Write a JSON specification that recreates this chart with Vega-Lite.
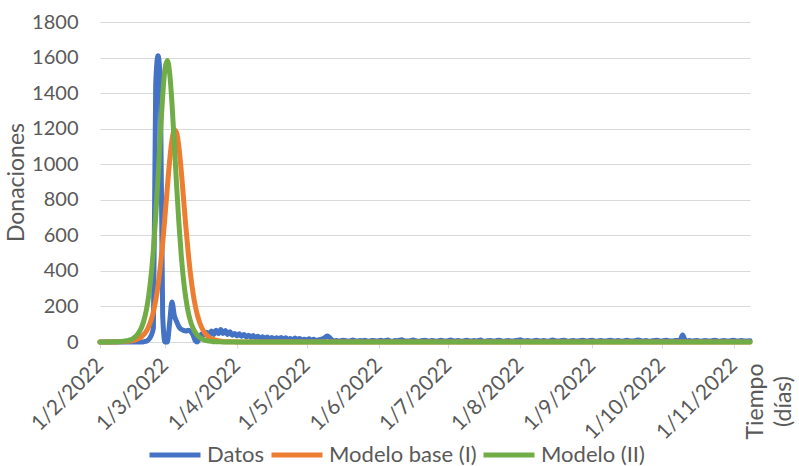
{
"$schema":"https://vega.github.io/schema/vega-lite/v6.json",
"width":650,"height":320,
"autosize":"none",
"padding":{"left":100,"top":22,"right":49,"bottom":124},
"background":"white",
"config":{"view":{"stroke":null},"font":"Lato"},
"data":{"values":[
{"t":"2022-02-01","Datos":0,"Modelo base (I)":0,"Modelo (II)":0},
{"t":"2022-02-02","Datos":0,"Modelo base (I)":0,"Modelo (II)":0},
{"t":"2022-02-03","Datos":0,"Modelo base (I)":0,"Modelo (II)":0},
{"t":"2022-02-04","Datos":0,"Modelo base (I)":0,"Modelo (II)":0},
{"t":"2022-02-05","Datos":0,"Modelo base (I)":0,"Modelo (II)":0},
{"t":"2022-02-06","Datos":0,"Modelo base (I)":0,"Modelo (II)":1},
{"t":"2022-02-07","Datos":0,"Modelo base (I)":0,"Modelo (II)":1},
{"t":"2022-02-08","Datos":0,"Modelo base (I)":0,"Modelo (II)":1},
{"t":"2022-02-09","Datos":0,"Modelo base (I)":1,"Modelo (II)":2},
{"t":"2022-02-10","Datos":0,"Modelo base (I)":1,"Modelo (II)":3},
{"t":"2022-02-11","Datos":0,"Modelo base (I)":2,"Modelo (II)":4},
{"t":"2022-02-12","Datos":0,"Modelo base (I)":3,"Modelo (II)":6},
{"t":"2022-02-13","Datos":0,"Modelo base (I)":4,"Modelo (II)":8},
{"t":"2022-02-14","Datos":0,"Modelo base (I)":5,"Modelo (II)":12},
{"t":"2022-02-15","Datos":0,"Modelo base (I)":8,"Modelo (II)":18},
{"t":"2022-02-16","Datos":0,"Modelo base (I)":11,"Modelo (II)":27},
{"t":"2022-02-17","Datos":0,"Modelo base (I)":16,"Modelo (II)":40},
{"t":"2022-02-18","Datos":0,"Modelo base (I)":22,"Modelo (II)":59},
{"t":"2022-02-19","Datos":0,"Modelo base (I)":31,"Modelo (II)":86},
{"t":"2022-02-20","Datos":2,"Modelo base (I)":44,"Modelo (II)":125},
{"t":"2022-02-21","Datos":5,"Modelo base (I)":62,"Modelo (II)":182},
{"t":"2022-02-22","Datos":15,"Modelo base (I)":87,"Modelo (II)":262},
{"t":"2022-02-23","Datos":35,"Modelo base (I)":122,"Modelo (II)":372},
{"t":"2022-02-24","Datos":80,"Modelo base (I)":170,"Modelo (II)":519},
{"t":"2022-02-25","Datos":1450,"Modelo base (I)":234,"Modelo (II)":706},
{"t":"2022-02-26","Datos":1610,"Modelo base (I)":318,"Modelo (II)":928},
{"t":"2022-02-27","Datos":1450,"Modelo base (I)":426,"Modelo (II)":1165},
{"t":"2022-02-28","Datos":150,"Modelo base (I)":557,"Modelo (II)":1384},
{"t":"2022-03-01","Datos":0,"Modelo base (I)":709,"Modelo (II)":1537},
{"t":"2022-03-02","Datos":0,"Modelo base (I)":869,"Modelo (II)":1584},
{"t":"2022-03-03","Datos":110,"Modelo base (I)":1020,"Modelo (II)":1513},
{"t":"2022-03-04","Datos":225,"Modelo base (I)":1135,"Modelo (II)":1344},
{"t":"2022-03-05","Datos":150,"Modelo base (I)":1192,"Modelo (II)":1118},
{"t":"2022-03-06","Datos":115,"Modelo base (I)":1177,"Modelo (II)":881},
{"t":"2022-03-07","Datos":85,"Modelo base (I)":1095,"Modelo (II)":666},
{"t":"2022-03-08","Datos":72,"Modelo base (I)":962,"Modelo (II)":487},
{"t":"2022-03-09","Datos":65,"Modelo base (I)":805,"Modelo (II)":347},
{"t":"2022-03-10","Datos":62,"Modelo base (I)":646,"Modelo (II)":244},
{"t":"2022-03-11","Datos":66,"Modelo base (I)":502,"Modelo (II)":169},
{"t":"2022-03-12","Datos":60,"Modelo base (I)":380,"Modelo (II)":116},
{"t":"2022-03-13","Datos":42,"Modelo base (I)":282,"Modelo (II)":80},
{"t":"2022-03-14","Datos":8,"Modelo base (I)":206,"Modelo (II)":54},
{"t":"2022-03-15","Datos":0,"Modelo base (I)":149,"Modelo (II)":37},
{"t":"2022-03-16","Datos":30,"Modelo base (I)":107,"Modelo (II)":25},
{"t":"2022-03-17","Datos":46,"Modelo base (I)":76,"Modelo (II)":17},
{"t":"2022-03-18","Datos":40,"Modelo base (I)":54,"Modelo (II)":11},
{"t":"2022-03-19","Datos":55,"Modelo base (I)":38,"Modelo (II)":8},
{"t":"2022-03-20","Datos":40,"Modelo base (I)":27,"Modelo (II)":5},
{"t":"2022-03-21","Datos":62,"Modelo base (I)":19,"Modelo (II)":4},
{"t":"2022-03-22","Datos":42,"Modelo base (I)":14,"Modelo (II)":2},
{"t":"2022-03-23","Datos":66,"Modelo base (I)":10,"Modelo (II)":2},
{"t":"2022-03-24","Datos":46,"Modelo base (I)":7,"Modelo (II)":1},
{"t":"2022-03-25","Datos":70,"Modelo base (I)":5,"Modelo (II)":1},
{"t":"2022-03-26","Datos":48,"Modelo base (I)":3,"Modelo (II)":0},
{"t":"2022-03-27","Datos":64,"Modelo base (I)":2,"Modelo (II)":0},
{"t":"2022-03-28","Datos":42,"Modelo base (I)":2,"Modelo (II)":0},
{"t":"2022-03-29","Datos":58,"Modelo base (I)":1,"Modelo (II)":0},
{"t":"2022-03-30","Datos":38,"Modelo base (I)":1,"Modelo (II)":0},
{"t":"2022-03-31","Datos":48,"Modelo base (I)":1,"Modelo (II)":0},
{"t":"2022-04-01","Datos":34,"Modelo base (I)":0,"Modelo (II)":0},
{"t":"2022-04-02","Datos":46,"Modelo base (I)":0,"Modelo (II)":0},
{"t":"2022-04-03","Datos":32,"Modelo base (I)":0,"Modelo (II)":0},
{"t":"2022-04-04","Datos":42,"Modelo base (I)":0,"Modelo (II)":0},
{"t":"2022-04-05","Datos":28,"Modelo base (I)":0,"Modelo (II)":0},
{"t":"2022-04-06","Datos":38,"Modelo base (I)":0,"Modelo (II)":0},
{"t":"2022-04-07","Datos":26,"Modelo base (I)":0,"Modelo (II)":0},
{"t":"2022-04-08","Datos":36},{"t":"2022-04-09","Datos":24},{"t":"2022-04-10","Datos":32},{"t":"2022-04-11","Datos":20},{"t":"2022-04-12","Datos":30},{"t":"2022-04-13","Datos":18},{"t":"2022-04-14","Datos":28},{"t":"2022-04-15","Datos":16},{"t":"2022-04-16","Datos":26},{"t":"2022-04-17","Datos":14},{"t":"2022-04-18","Datos":24},{"t":"2022-04-19","Datos":16},{"t":"2022-04-20","Datos":26},{"t":"2022-04-21","Datos":14},{"t":"2022-04-22","Datos":24},{"t":"2022-04-23","Datos":12},{"t":"2022-04-24","Datos":20},{"t":"2022-04-25","Datos":10},{"t":"2022-04-26","Datos":22},{"t":"2022-04-27","Datos":12},{"t":"2022-04-28","Datos":20},{"t":"2022-04-29","Datos":8},{"t":"2022-04-30","Datos":16},
{"t":"2022-05-01","Datos":8},{"t":"2022-05-02","Datos":18},{"t":"2022-05-03","Datos":10},{"t":"2022-05-04","Datos":16},{"t":"2022-05-05","Datos":8},{"t":"2022-05-06","Datos":12},{"t":"2022-05-07","Datos":14},{"t":"2022-05-08","Datos":18},{"t":"2022-05-09","Datos":26},{"t":"2022-05-10","Datos":34},{"t":"2022-05-11","Datos":24},{"t":"2022-05-12","Datos":10},{"t":"2022-05-13","Datos":6},{"t":"2022-05-14","Datos":9},{"t":"2022-05-15","Datos":5},{"t":"2022-05-16","Datos":8},{"t":"2022-05-17","Datos":10},{"t":"2022-05-18","Datos":7},{"t":"2022-05-19","Datos":4},{"t":"2022-05-20","Datos":8},{"t":"2022-05-21","Datos":11},{"t":"2022-05-22","Datos":6},{"t":"2022-05-23","Datos":5},{"t":"2022-05-24","Datos":9},{"t":"2022-05-25","Datos":7},{"t":"2022-05-26","Datos":10},{"t":"2022-05-27","Datos":6},{"t":"2022-05-28","Datos":4},{"t":"2022-05-29","Datos":8},{"t":"2022-05-30","Datos":9},{"t":"2022-05-31","Datos":5},
{"t":"2022-06-01","Datos":7},{"t":"2022-06-02","Datos":10},{"t":"2022-06-03","Datos":6},{"t":"2022-06-04","Datos":8},{"t":"2022-06-05","Datos":11},{"t":"2022-06-06","Datos":5},{"t":"2022-06-07","Datos":4},{"t":"2022-06-08","Datos":9},{"t":"2022-06-09","Datos":7},{"t":"2022-06-10","Datos":10},{"t":"2022-06-11","Datos":12},{"t":"2022-06-12","Datos":8},{"t":"2022-06-13","Datos":6},{"t":"2022-06-14","Datos":5},{"t":"2022-06-15","Datos":9},{"t":"2022-06-16","Datos":11},{"t":"2022-06-17","Datos":7},{"t":"2022-06-18","Datos":4},{"t":"2022-06-19","Datos":6},{"t":"2022-06-20","Datos":8},{"t":"2022-06-21","Datos":10},{"t":"2022-06-22","Datos":7},{"t":"2022-06-23","Datos":5},{"t":"2022-06-24","Datos":9},{"t":"2022-06-25","Datos":6},{"t":"2022-06-26","Datos":4},{"t":"2022-06-27","Datos":8},{"t":"2022-06-28","Datos":10},{"t":"2022-06-29","Datos":6},{"t":"2022-06-30","Datos":5},
{"t":"2022-07-01","Datos":8},{"t":"2022-07-02","Datos":11},{"t":"2022-07-03","Datos":7},{"t":"2022-07-04","Datos":5},{"t":"2022-07-05","Datos":9},{"t":"2022-07-06","Datos":6},{"t":"2022-07-07","Datos":4},{"t":"2022-07-08","Datos":8},{"t":"2022-07-09","Datos":10},{"t":"2022-07-10","Datos":7},{"t":"2022-07-11","Datos":5},{"t":"2022-07-12","Datos":9},{"t":"2022-07-13","Datos":6},{"t":"2022-07-14","Datos":8},{"t":"2022-07-15","Datos":11},{"t":"2022-07-16","Datos":5},{"t":"2022-07-17","Datos":4},{"t":"2022-07-18","Datos":7},{"t":"2022-07-19","Datos":9},{"t":"2022-07-20","Datos":6},{"t":"2022-07-21","Datos":5},{"t":"2022-07-22","Datos":8},{"t":"2022-07-23","Datos":10},{"t":"2022-07-24","Datos":6},{"t":"2022-07-25","Datos":4},{"t":"2022-07-26","Datos":7},{"t":"2022-07-27","Datos":9},{"t":"2022-07-28","Datos":5},{"t":"2022-07-29","Datos":6},{"t":"2022-07-30","Datos":8},{"t":"2022-07-31","Datos":10},
{"t":"2022-08-01","Datos":12},{"t":"2022-08-02","Datos":7},{"t":"2022-08-03","Datos":5},{"t":"2022-08-04","Datos":9},{"t":"2022-08-05","Datos":6},{"t":"2022-08-06","Datos":4},{"t":"2022-08-07","Datos":8},{"t":"2022-08-08","Datos":10},{"t":"2022-08-09","Datos":7},{"t":"2022-08-10","Datos":5},{"t":"2022-08-11","Datos":9},{"t":"2022-08-12","Datos":6},{"t":"2022-08-13","Datos":4},{"t":"2022-08-14","Datos":8},{"t":"2022-08-15","Datos":11},{"t":"2022-08-16","Datos":7},{"t":"2022-08-17","Datos":5},{"t":"2022-08-18","Datos":6},{"t":"2022-08-19","Datos":9},{"t":"2022-08-20","Datos":10},{"t":"2022-08-21","Datos":6},{"t":"2022-08-22","Datos":4},{"t":"2022-08-23","Datos":7},{"t":"2022-08-24","Datos":9},{"t":"2022-08-25","Datos":5},{"t":"2022-08-26","Datos":6},{"t":"2022-08-27","Datos":8},{"t":"2022-08-28","Datos":10},{"t":"2022-08-29","Datos":7},{"t":"2022-08-30","Datos":5},{"t":"2022-08-31","Datos":8},
{"t":"2022-09-01","Datos":10},{"t":"2022-09-02","Datos":6},{"t":"2022-09-03","Datos":4},{"t":"2022-09-04","Datos":7},{"t":"2022-09-05","Datos":9},{"t":"2022-09-06","Datos":5},{"t":"2022-09-07","Datos":6},{"t":"2022-09-08","Datos":8},{"t":"2022-09-09","Datos":10},{"t":"2022-09-10","Datos":7},{"t":"2022-09-11","Datos":5},{"t":"2022-09-12","Datos":9},{"t":"2022-09-13","Datos":6},{"t":"2022-09-14","Datos":4},{"t":"2022-09-15","Datos":8},{"t":"2022-09-16","Datos":10},{"t":"2022-09-17","Datos":7},{"t":"2022-09-18","Datos":5},{"t":"2022-09-19","Datos":6},{"t":"2022-09-20","Datos":9},{"t":"2022-09-21","Datos":11},{"t":"2022-09-22","Datos":7},{"t":"2022-09-23","Datos":5},{"t":"2022-09-24","Datos":8},{"t":"2022-09-25","Datos":6},{"t":"2022-09-26","Datos":4},{"t":"2022-09-27","Datos":7},{"t":"2022-09-28","Datos":9},{"t":"2022-09-29","Datos":10},{"t":"2022-09-30","Datos":6},
{"t":"2022-10-01","Datos":5},{"t":"2022-10-02","Datos":8},{"t":"2022-10-03","Datos":10},{"t":"2022-10-04","Datos":7},{"t":"2022-10-05","Datos":5},{"t":"2022-10-06","Datos":6},{"t":"2022-10-07","Datos":9},{"t":"2022-10-08","Datos":8},{"t":"2022-10-09","Datos":14},{"t":"2022-10-10","Datos":40},{"t":"2022-10-11","Datos":12},{"t":"2022-10-12","Datos":6},{"t":"2022-10-13","Datos":8},{"t":"2022-10-14","Datos":5},{"t":"2022-10-15","Datos":7},{"t":"2022-10-16","Datos":9},{"t":"2022-10-17","Datos":6},{"t":"2022-10-18","Datos":4},{"t":"2022-10-19","Datos":7},{"t":"2022-10-20","Datos":9},{"t":"2022-10-21","Datos":5},{"t":"2022-10-22","Datos":6},{"t":"2022-10-23","Datos":8},{"t":"2022-10-24","Datos":10},{"t":"2022-10-25","Datos":6},{"t":"2022-10-26","Datos":4},{"t":"2022-10-27","Datos":7},{"t":"2022-10-28","Datos":9},{"t":"2022-10-29","Datos":5},{"t":"2022-10-30","Datos":6},{"t":"2022-10-31","Datos":8},
{"t":"2022-11-01","Datos":10},{"t":"2022-11-02","Datos":6},{"t":"2022-11-03","Datos":5},{"t":"2022-11-04","Datos":8},{"t":"2022-11-05","Datos":7},{"t":"2022-11-06","Datos":5},{"t":"2022-11-07","Datos":6},
{"t":"2022-11-08","Datos":7,"Modelo base (I)":0,"Modelo (II)":0}
]},
"transform":[
{"fold":["Datos","Modelo base (I)","Modelo (II)"],"as":["s","v"]},
{"filter":"isValid(datum.v)"}
],
"mark":{"type":"line","strokeWidth":5,"strokeCap":"round","strokeJoin":"round","interpolate":"monotone"},
"encoding":{
"x":{"field":"t","type":"temporal","scale":{"nice":false},
"axis":{"title":["Tiempo","(días)"],"titleAngle":-90,"titleX":644,"titleY":59,"titleAlign":"center","titleBaseline":"top","titleFontSize":23,"titleFontWeight":"normal","titleColor":"#595959","titleLineHeight":28,
"format":"%-d/%-m/%Y","tickCount":{"interval":"month","step":1},"labelAngle":-45,"labelAlign":"right","labelBaseline":"middle","labelFontSize":21,"labelColor":"#595959","labelPadding":14,"labelOverlap":false,"labelFlush":false,"domainColor":"#d9d9d9","domainWidth":1,"tickColor":"#d9d9d9","tickSize":6,"grid":false}},
"y":{"field":"v","type":"quantitative","scale":{"domain":[0,1800],"nice":false},
"axis":{"values":[0,200,400,600,800,1000,1200,1400,1600,1800],"format":"d","domain":false,"ticks":false,"tickSize":0,"labelPadding":22,"labelFontSize":20,"labelColor":"#595959","gridColor":"#d9d9d9","gridWidth":1,"title":"Donaciones","titleFontSize":23,"titleFontWeight":"normal","titleColor":"#595959","titlePadding":3}},
"color":{"field":"s","type":"nominal","scale":{"domain":["Datos","Modelo base (I)","Modelo (II)"],"range":["#4472C4","#ED7D31","#70AD47"]},
"legend":{"title":null,"orient":"none","legendX":47,"legendY":405,"direction":"horizontal","symbolType":"stroke","symbolSize":2600,"symbolStrokeWidth":5,"labelFontSize":22,"labelColor":"#595959","columnPadding":-4,"labelOffset":4,"symbolLimit":0}}
}
}
